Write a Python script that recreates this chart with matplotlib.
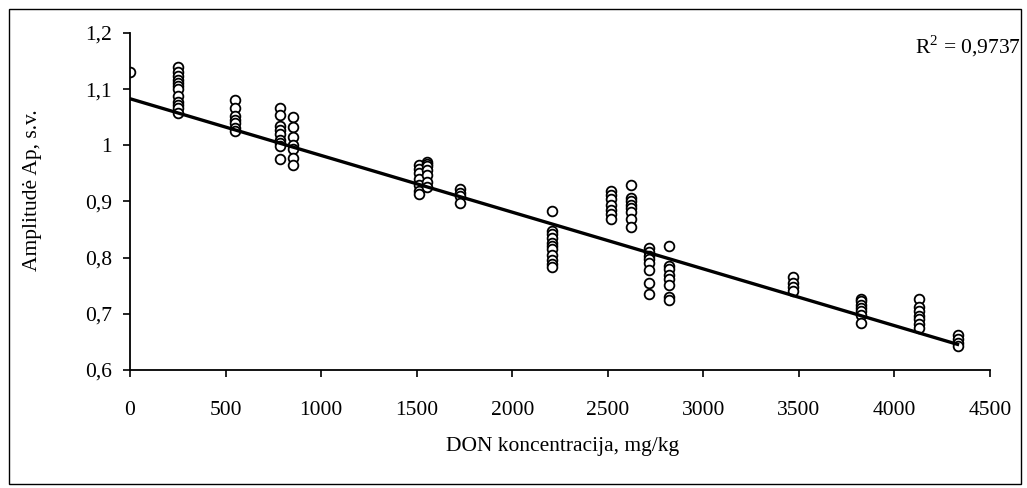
import numpy as np
import matplotlib
matplotlib.use("Agg")
import matplotlib.pyplot as plt
from matplotlib.patches import Rectangle

plt.rcParams['font.family'] = ['Liberation Serif', 'DejaVu Serif']
plt.rcParams['mathtext.fontset'] = 'custom'
plt.rcParams['mathtext.rm'] = 'Liberation Serif'

# DON concentration groups (mg/kg) and measured amplitudes
don = [0, 250, 550, 785, 855, 1510, 1555, 1725, 2210, 2515, 2620, 2715, 2820,
       3470, 3825, 4130, 4330]
amp = [
    [1.131],
    [1.14, 1.13, 1.123, 1.117, 1.111, 1.105, 1.1, 1.087, 1.078, 1.072, 1.066, 1.057],
    [1.08, 1.066, 1.052, 1.045, 1.04, 1.03, 1.025],
    [1.067, 1.054, 1.035, 1.028, 1.02, 1.01, 1.005, 0.998, 0.975],
    [1.05, 1.032, 1.015, 1.0, 0.993, 0.978, 0.965],
    [0.965, 0.958, 0.95, 0.94, 0.93, 0.918, 0.914],
    [0.971, 0.967, 0.963, 0.956, 0.947, 0.935, 0.926],
    [0.922, 0.915, 0.909, 0.898],
    [0.883, 0.848, 0.842, 0.835, 0.826, 0.82, 0.815, 0.805, 0.795, 0.788, 0.783],
    [0.919, 0.912, 0.904, 0.894, 0.885, 0.877, 0.868],
    [0.93, 0.906, 0.9, 0.894, 0.888, 0.882, 0.868, 0.854],
    [0.817, 0.81, 0.803, 0.797, 0.79, 0.778, 0.755, 0.735],
    [0.82, 0.785, 0.78, 0.77, 0.762, 0.752, 0.73, 0.724],
    [0.765, 0.755, 0.748, 0.74],
    [0.727, 0.722, 0.715, 0.71, 0.705, 0.698, 0.684],
    [0.727, 0.712, 0.705, 0.697, 0.69, 0.682, 0.675],
    [0.662, 0.655, 0.648, 0.643],
]
# linear trend as shown on the chart
trend_intercept = 1.083
trend_slope = -1.01e-4
r2_text = "R$^2$ = 0,9737"
xticks = [0, 500, 1000, 1500, 2000, 2500, 3000, 3500, 4000, 4500]
yticks = [0.6, 0.7, 0.8, 0.9, 1.0, 1.1, 1.2]
ylabels = ["0,6", "0,7", "0,8", "0,9", "1", "1,1", "1,2"]

x = np.concatenate([[d] * len(a) for d, a in zip(don, amp)])
y = np.concatenate(amp)

fs = 15.5
fig = plt.figure(figsize=(10.27, 4.88), dpi=100)
ax = fig.add_axes([130 / 1027, 1 - 370 / 488, 860 / 1027, 337 / 488])

ax.plot(x, y, 'o', mfc='white', mec='black', ms=7, mew=1.3, ls='none', zorder=2)

xl = np.array([0, max(don)])
ax.plot(xl, trend_slope * xl + trend_intercept, color='black', lw=2.4, zorder=3)

ax.set_xlim(0, 4500)
ax.set_ylim(0.6, 1.2)
ax.set_xticks(xticks)
ax.set_yticks(yticks)
ax.set_yticklabels(ylabels)
ax.tick_params(direction='out', length=5, width=1.2, labelsize=fs, colors='black')
ax.tick_params(axis='x', pad=17)
ax.tick_params(axis='y', pad=8)
for s in ['top', 'right']:
    ax.spines[s].set_visible(False)
for s in ['left', 'bottom']:
    ax.spines[s].set_linewidth(1.3)
ax.patch.set_alpha(0)

fig.text(33 / 1027, 1 - 190 / 488, "Amplitudė Ap, s.v.", fontsize=fs,
         rotation=90, ha='center', va='center')
fig.text(563 / 1027, 1 - 446 / 488, "DON koncentracija, mg/kg", fontsize=fs,
         ha='center', va='center')
fig.text(1021 / 1027, 1 - 46 / 488, r2_text, fontsize=fs, ha='right', va='center')

fig.patches.append(Rectangle((9 / 1027, 4 / 488), 1012 / 1027, 475 / 488,
                             transform=fig.transFigure, fill=False,
                             edgecolor='black', lw=1.0))

fig.savefig("out.png", dpi=100)
